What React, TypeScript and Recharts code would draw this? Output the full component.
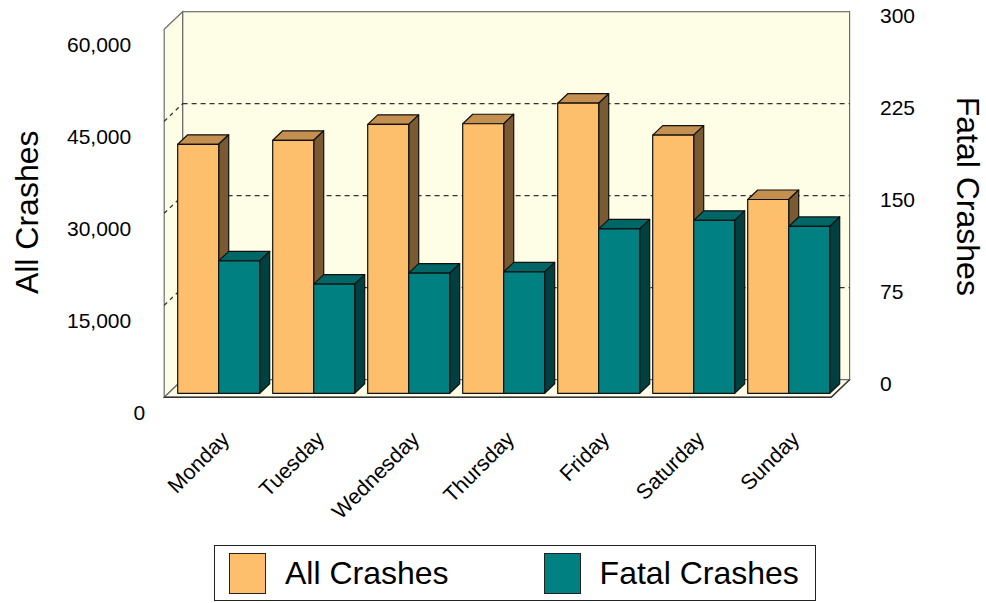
import { ComposedChart, Bar, XAxis, YAxis, CartesianGrid, Legend, ReferenceArea } from 'recharts';

const days = ['Monday', 'Tuesday', 'Wednesday', 'Thursday', 'Friday', 'Saturday', 'Sunday'];
const allCrashes = [40600, 41250, 43850, 43950, 47300, 42100, 31600];
const fatalCrashes = [108, 89, 98, 99, 134, 141, 136];
const leftTicks = [0, 15000, 30000, 45000, 60000];
const rightTicks = [0, 75, 150, 225, 300];

const data = days.map((day, i) => ({ day, all: allCrashes[i], fatal: fatalCrashes[i] }));

const FONT = '"Liberation Sans", Arial, sans-serif';
const WALL = '#FEFDE6';
const EDGE = '#6e6e6e';
// depth of the plot box (front plane -> back wall) and of one bar
const BOX = { left: -7, bottom: 4, dx: 18.4, dy: 17.6 };
const BAR_D = { dx: 10, dy: 9.5 };

const fmt = (v: number) => v.toLocaleString('en-US');

function Walls(props: any) {
  const { x, y, width, height } = props;
  const fx = x + BOX.left;
  const fb = y + height + BOX.bottom;
  const ft = fb - height;
  const fr = fx + width + 2;
  const bx = fx + BOX.dx;
  const bt = ft - BOX.dy;
  const bb = fb - BOX.dy;
  const br = fr + BOX.dx;
  return (
    <g>
      <rect x={bx} y={bt} width={br - bx} height={bb - bt} fill={WALL} stroke={EDGE} strokeWidth={1.2} />
      <polygon points={`${fx},${ft} ${bx},${bt} ${bx},${bb} ${fx},${fb}`} fill={WALL} stroke={EDGE} strokeWidth={1.2} />
      <polygon points={`${fx},${fb} ${bx},${bb} ${br},${bb} ${fr},${fb}`} fill={WALL} stroke={EDGE} strokeWidth={1.2} />
      <line x1={fx} y1={fb} x2={fr} y2={fb} stroke="#333" strokeWidth={1.5} />
      <line x1={fr} y1={fb} x2={br} y2={bb} stroke="#333" strokeWidth={1.2} />
    </g>
  );
}

function GridLine(props: any) {
  const { x1, x2, y1, index } = props;
  if (index === 0 || index === leftTicks.length - 1) return <g />;
  const fx = x1 + BOX.left;
  const fy = y1 + BOX.bottom;
  const bx = fx + BOX.dx;
  const by = fy - BOX.dy;
  const br = x2 + 2 + BOX.left + BOX.dx;
  return (
    <g>
      <line x1={fx} y1={fy} x2={bx} y2={by} stroke="#333" strokeDasharray="4 4" strokeWidth={1.2} />
      <line x1={bx} y1={by} x2={br} y2={by} stroke="#333" strokeDasharray="5 4" strokeWidth={1.2} />
    </g>
  );
}

function makeBox(front: string, top: string, side: string) {
  return (props: any) => {
    const { x, y, width, height } = props;
    if (!height) return <g />;
    const { dx, dy } = BAR_D;
    const r = x + width;
    const b = y + height;
    return (
      <g stroke="#111" strokeWidth={1.2} strokeLinejoin="round">
        <polygon points={`${x},${y} ${x + dx},${y - dy} ${r + dx},${y - dy} ${r},${y}`} fill={top} />
        <polygon points={`${r},${y} ${r + dx},${y - dy} ${r + dx},${b - dy} ${r},${b}`} fill={side} />
        <rect x={x} y={y} width={width} height={height} fill={front} />
      </g>
    );
  };
}

const OrangeBox = makeBox('#FDBF6C', '#C4904F', '#7A5A33');
const TealBox = makeBox('#008080', '#006666', '#004040');

function LeftTick(props: any) {
  const { x, y, payload } = props;
  const shift = payload.value === 0 ? 14 : 0;
  return (
    <text x={x + shift} y={y + 19} textAnchor="end" dominantBaseline="central" fontSize={21} fontFamily={FONT} fill="#000">
      {fmt(payload.value)}
    </text>
  );
}

function RightTick(props: any) {
  const { x, y, payload } = props;
  return (
    <text x={x} y={y - 10} textAnchor="start" dominantBaseline="central" fontSize={21} fontFamily={FONT} fill="#000">
      {payload.value}
    </text>
  );
}

function DayTick(props: any) {
  const { x, y, payload } = props;
  return (
    <g transform={`translate(${x + 12},${y + 39}) rotate(-45)`}>
      <text x={0} y={0} textAnchor="end" fontSize={21.5} fontFamily={FONT} fill="#000">
        {payload.value}
      </text>
    </g>
  );
}

function LeftTitle(props: any) {
  const { viewBox } = props;
  const cy = viewBox.y + viewBox.height / 2 + 3;
  return (
    <text x={27} y={cy} transform={`rotate(-90, 27, ${cy})`} textAnchor="middle" dominantBaseline="central" fontSize={32} fontFamily={FONT} fill="#000">
      All Crashes
    </text>
  );
}

function RightTitle(props: any) {
  const { viewBox } = props;
  const cx = viewBox.x + 132;
  const cy = viewBox.y + viewBox.height / 2 - 13;
  return (
    <text x={cx} y={cy} transform={`rotate(90, ${cx}, ${cy})`} textAnchor="middle" dominantBaseline="central" fontSize={32} fontFamily={FONT} fill="#000">
      Fatal Crashes
    </text>
  );
}

function LegendBox() {
  const item = (color: string, label: string, gap: number) => (
    <div style={{ display: 'flex', alignItems: 'center', marginRight: gap }}>
      <div style={{ width: 35, height: 39, background: color, border: '1px solid #222', marginRight: 19 }} />
      <span style={{ fontSize: 32, fontFamily: FONT, color: '#000', lineHeight: '40px' }}>{label}</span>
    </div>
  );
  return (
    <div
      style={{
        display: 'flex',
        alignItems: 'center',
        boxSizing: 'border-box',
        width: 602,
        height: 56,
        border: '1.5px solid #222',
        paddingLeft: 14,
      }}
    >
      {item('#FDBF6C', 'All Crashes', 95)}
      {item('#008080', 'Fatal Crashes', 0)}
    </div>
  );
}

export default function App() {
  return (
    <div style={{ position: 'absolute', left: 0, top: 0 }}>
      <ComposedChart
        width={986}
        height={603}
        data={data}
        margin={{ top: 25.3, right: 0, bottom: 2, left: 0 }}
        barCategoryGap={6.5}
        barGap={0}
      >
        <ReferenceArea yAxisId="left" y1={0} y2={60000} ifOverflow="visible" shape={<Walls />} zIndex={-200} />
        <CartesianGrid yAxisId="left" vertical={false} horizontal={<GridLine />} />
        <XAxis dataKey="day" height={151.7} interval={0} axisLine={false} tickLine={false} tick={<DayTick />} />
        <YAxis
          yAxisId="left"
          width={171.2}
          domain={[0, 60000]}
          ticks={leftTicks}
          axisLine={false}
          tickLine={false}
          tickSize={0}
          tickMargin={40}
          tick={<LeftTick />}
          label={<LeftTitle />}
        />
        <YAxis
          yAxisId="right"
          orientation="right"
          width={149.8}
          domain={[0, 300]}
          ticks={rightTicks}
          axisLine={false}
          tickLine={false}
          tickSize={0}
          tickMargin={43.8}
          tick={<RightTick />}
          label={<RightTitle />}
        />
        <Legend
          verticalAlign="bottom"
          content={<LegendBox />}
          wrapperStyle={{ left: 214, width: 602, bottom: 2 }}
        />
        <Bar yAxisId="left" dataKey="all" name="All Crashes" shape={OrangeBox} isAnimationActive={false} />
        <Bar yAxisId="right" dataKey="fatal" name="Fatal Crashes" shape={TealBox} isAnimationActive={false} />
      </ComposedChart>
    </div>
  );
}
